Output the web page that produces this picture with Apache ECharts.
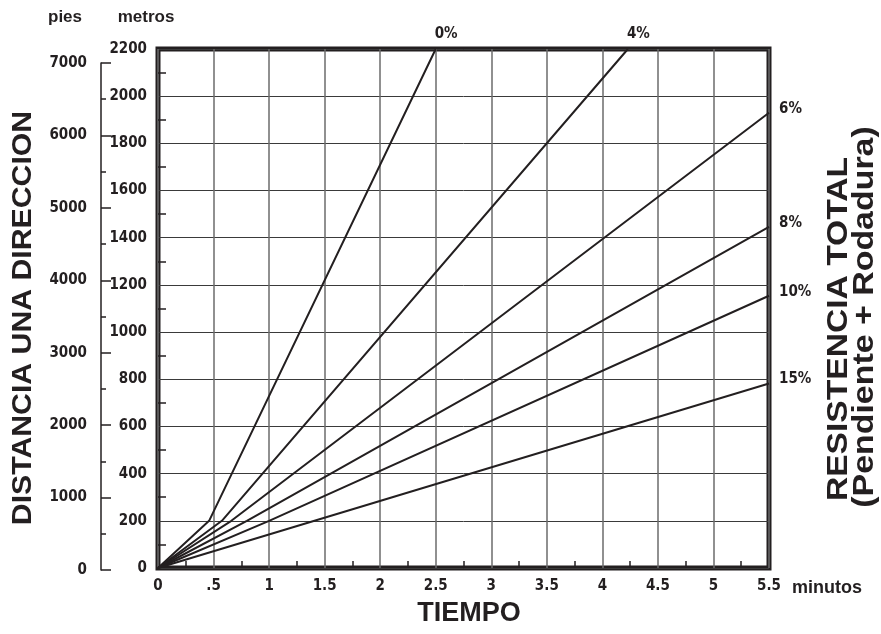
<!DOCTYPE html>
<html>
<head>
<meta charset="utf-8">
<script src="https://cdn.jsdelivr.net/npm/echarts@6/dist/echarts.min.js"></script>
<style>
  html, body { margin: 0; padding: 0; background: #fff; }
  #chart { width: 881px; height: 634px; }
</style>
</head>
<body>
<div id="chart"></div>
<script>
// Pendientes (resistencia total)
const pendientes = ['0%', '4%', '6%', '8%', '10%', '15%'];

// [tiempo (minutos), distancia (metros)]
const linea0 = [[0, 0], [0.46, 200], [2.5, 2200]];
const linea4 = [[0, 0], [0.575, 200], [4.23, 2200]];
const linea6 = [[0, 0], [0.66, 200], [5.5, 1930]];
const linea8 = [[0, 0], [0.8, 200], [5.5, 1446]];
const linea10 = [[0, 0], [1.0, 200], [5.5, 1154]];
const linea15 = [[0, 0], [5.5, 782]];
const lineas = [linea0, linea4, linea6, linea8, linea10, linea15];

// Etiquetas de ejes
const tiempoLabels = ['0', '.5', '1', '1.5', '2', '2.5', '3', '3.5', '4', '4.5', '5', '5.5'];
const metrosTicks = [0, 200, 400, 600, 800, 1000, 1200, 1400, 1600, 1800, 2000, 2200];
const piesTicks = [0, 1000, 2000, 3000, 4000, 5000, 6000, 7000];

const negro = '#231f20';
const narrow = "'Liberation Sans Narrow', 'DejaVu Sans Condensed', sans-serif";
const sans = "'Liberation Sans', Arial, sans-serif";

const myChart = echarts.init(document.getElementById('chart'));

const series = pendientes.map(function (nombre, i) {
    const arriba = i < 2; // 0% y 4% llegan al borde superior
    return {
        name: nombre,
        type: 'line',
        xAxisIndex: 0,
        yAxisIndex: 0,
        data: lineas[i],
        symbol: 'none',
        clip: false,
        silent: true,
        lineStyle: { color: negro, width: 2 },
        endLabel: {
            show: true,
            formatter: '{a}',
            distance: 8,
            offset: arriba ? [-9, -15] : [2, -4],
            color: negro,
            fontFamily: narrow,
            fontWeight: 'bold',
            fontSize: 15
        }
    };
});

const labelTexto = function (v) { return String(v); };

myChart.setOption({
    animation: false,
    grid: [
        { left: 158, top: 49, width: 611, height: 519, show: true,
          borderColor: negro, borderWidth: 5 },
        { left: 101, top: 63, width: 10, height: 507 }
    ],
    xAxis: [
        {
            type: 'value', gridIndex: 0,
            min: 0, max: 5.5, interval: 0.5,
            axisLine: { show: false },
            axisTick: { show: false, inside: true },
            minorTick: { show: true, splitNumber: 2, length: 7,
                         lineStyle: { color: negro, width: 1.5 } },
            splitLine: { show: true, lineStyle: { color: '#6b6b6b', width: 1.5 } },
            axisLabel: {
                margin: 11,
                color: negro, fontFamily: narrow, fontWeight: 'bold', fontSize: 15,
                formatter: function (v) { return tiempoLabels[Math.round(v / 0.5)]; }
            }
        },
        { type: 'value', gridIndex: 1, show: false, min: 0, max: 1 }
    ],
    yAxis: [
        {
            type: 'value', gridIndex: 0,
            min: metrosTicks[0], max: metrosTicks[metrosTicks.length - 1], interval: 200,
            axisLine: { show: false },
            axisTick: { show: false, inside: true },
            minorTick: { show: true, splitNumber: 2, length: 8,
                         lineStyle: { color: negro, width: 1.5 } },
            splitLine: { show: true, lineStyle: { color: '#3a3a3a', width: 1 } },
            axisLabel: {
                margin: 11, formatter: labelTexto,
                color: negro, fontFamily: narrow, fontWeight: 'bold', fontSize: 15
            }
        },
        {
            type: 'value', gridIndex: 1,
            min: piesTicks[0], max: piesTicks[piesTicks.length - 1], interval: 1000,
            axisLine: { show: true, lineStyle: { color: negro, width: 1.5 } },
            axisTick: { show: true, inside: true, length: 10,
                        lineStyle: { color: negro, width: 1.5 } },
            minorTick: { show: true, splitNumber: 2, length: 5,
                         lineStyle: { color: negro, width: 1.5 } },
            splitLine: { show: false },
            axisLabel: {
                margin: 14, padding: [0, 0, 6, 0], formatter: labelTexto,
                color: negro, fontFamily: narrow, fontWeight: 'bold', fontSize: 15
            }
        }
    ],
    graphic: [
        { type: 'text', x: 65, y: 17,
          style: { text: 'pies', fill: negro, font: 'bold 17px ' + sans,
                   textAlign: 'center', textVerticalAlign: 'middle' } },
        { type: 'text', x: 146, y: 17,
          style: { text: 'metros', fill: negro, font: 'bold 17px ' + sans,
                   textAlign: 'center', textVerticalAlign: 'middle' } },
        { type: 'text', x: 827, y: 588,
          style: { text: 'minutos', fill: negro, font: 'bold 18px ' + sans,
                   textAlign: 'center', textVerticalAlign: 'middle' } },
        { type: 'text', x: 469, y: 614,
          style: { text: 'TIEMPO', fill: negro, font: 'bold 27px ' + sans,
                   textAlign: 'center', textVerticalAlign: 'middle' } },
        { type: 'text', x: 23, y: 318, rotation: Math.PI / 2, scaleX: 1.08,
          style: { text: 'DISTANCIA UNA DIRECCION', fill: negro, font: 'bold 28px ' + sans,
                   textAlign: 'center', textVerticalAlign: 'middle' } },
        { type: 'text', x: 839, y: 329, rotation: Math.PI / 2, scaleX: 1.12,
          style: { text: 'RESISTENCIA TOTAL', fill: negro, font: 'bold 30px ' + sans,
                   textAlign: 'center', textVerticalAlign: 'middle' } },
        { type: 'text', x: 865, y: 317, rotation: Math.PI / 2, scaleX: 1.13,
          style: { text: '(Pendiente + Rodadura)', fill: negro, font: 'bold 30px ' + sans,
                   textAlign: 'center', textVerticalAlign: 'middle' } }
    ],
    series: series
});
</script>
</body>
</html>
